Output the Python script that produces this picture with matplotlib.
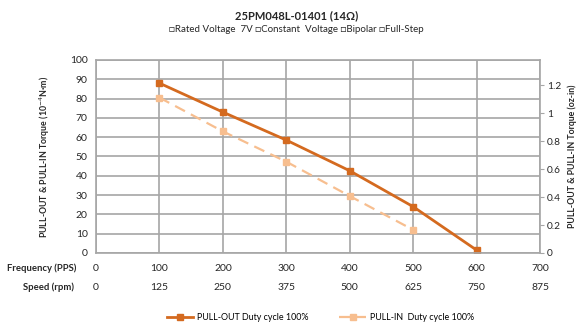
import matplotlib
matplotlib.use("Agg")
import matplotlib.pyplot as plt

plt.rcParams['font.family'] = ['Lato', 'DejaVu Sans']

freq = [100, 200, 300, 400, 500, 600]
pull_out = [88, 73, 58.5, 42.6, 24, 1.5]
freq_in = [100, 200, 300, 400, 500]
pull_in = [80.5, 63, 47.3, 29.5, 12]

freq_ticks = [0, 100, 200, 300, 400, 500, 600, 700]
speed_ticks = [0, 125, 250, 375, 500, 625, 750, 875]

c_out = '#D46A1F'
c_in = '#F7BE8F'
grid_c = '#A6A6A6'
txt_c = '#262626'

fig = plt.figure(figsize=(5.77, 3.22), dpi=100)
ax = fig.add_axes([0.1664, 0.2143, 0.7695, 0.5994])

ax.plot(freq, pull_out, color=c_out, lw=2, marker='s', ms=5,
        label='PULL-OUT Duty cycle 100%')
ax.plot(freq_in, pull_in, color=c_in, lw=1.6, ls=(0, (5, 3)), marker='s', ms=5,
        label='PULL-IN  Duty cycle 100%')

ax.set_xlim(0, 700)
ax.set_ylim(0, 100)
ax.set_yticks(range(0, 101, 10))
ax.set_xticks(freq_ticks)
ax.grid(True, color=grid_c, lw=1.2)
ax.set_axisbelow(True)
for s in ax.spines.values():
    s.set_color(grid_c)
    s.set_linewidth(1.2)
ax.tick_params(axis='both', length=0, labelsize=7.5, colors=txt_c)
ax.tick_params(axis='x', pad=8)
ax.tick_params(axis='y', pad=6)
ax.set_ylabel('PULL-OUT & PULL-IN Torque (10$^{-4}$N·m)', fontsize=6.3,
              fontweight='bold', color=txt_c)
ax.yaxis.set_label_coords(-0.1, 0.5)

sec = ax.secondary_xaxis(-0.1, functions=(lambda f: f * 1.25, lambda s: s / 1.25))
sec.set_xticks(speed_ticks)
sec.spines['bottom'].set_visible(False)
sec.tick_params(length=0, labelsize=7.5, colors=txt_c, pad=8)

ax2 = ax.twinx()
ax2.set_ylim(0, 1.38)
ax2.set_yticks([0, 0.2, 0.4, 0.6, 0.8, 1, 1.2])
ax2.set_yticklabels(['0', '0.2', '0.4', '0.6', '0.8', '1', '1.2'])
for s in ax2.spines.values():
    s.set_visible(False)
ax2.tick_params(axis='y', length=3, pad=2, color=grid_c, labelsize=7.3, colors=txt_c)
ax2.set_ylabel('PULL-OUT & PULL-IN Torque (oz-in)', fontsize=6.3,
               fontweight='bold', color=txt_c)
ax2.yaxis.set_label_coords(1.062, 0.5)

fig.text(0.133, 0.168, 'Frequency (PPS)', ha='right', va='center',
         fontsize=6.8, fontweight='bold', color=txt_c)
fig.text(0.128, 0.109, 'Speed (rpm)', ha='right', va='center',
         fontsize=6.8, fontweight='bold', color=txt_c)

fig.text(0.514, 0.952, '25PM048L-01401 (14Ω)', ha='center', va='center',
         fontsize=8, fontweight='bold', color=txt_c)
fig.text(0.514, 0.907, '\u25a1Rated Voltage  7V \u25a1Constant  Voltage \u25a1Bipolar \u25a1Full-Step',
         ha='center', va='center', fontsize=7, color=txt_c)

fig.legend(loc='center', bbox_to_anchor=(0.555, 0.015), ncol=2, frameon=False,
           fontsize=6.4, handlelength=3, columnspacing=3.5, handletextpad=0.4)

fig.savefig('out.png', dpi=100)
